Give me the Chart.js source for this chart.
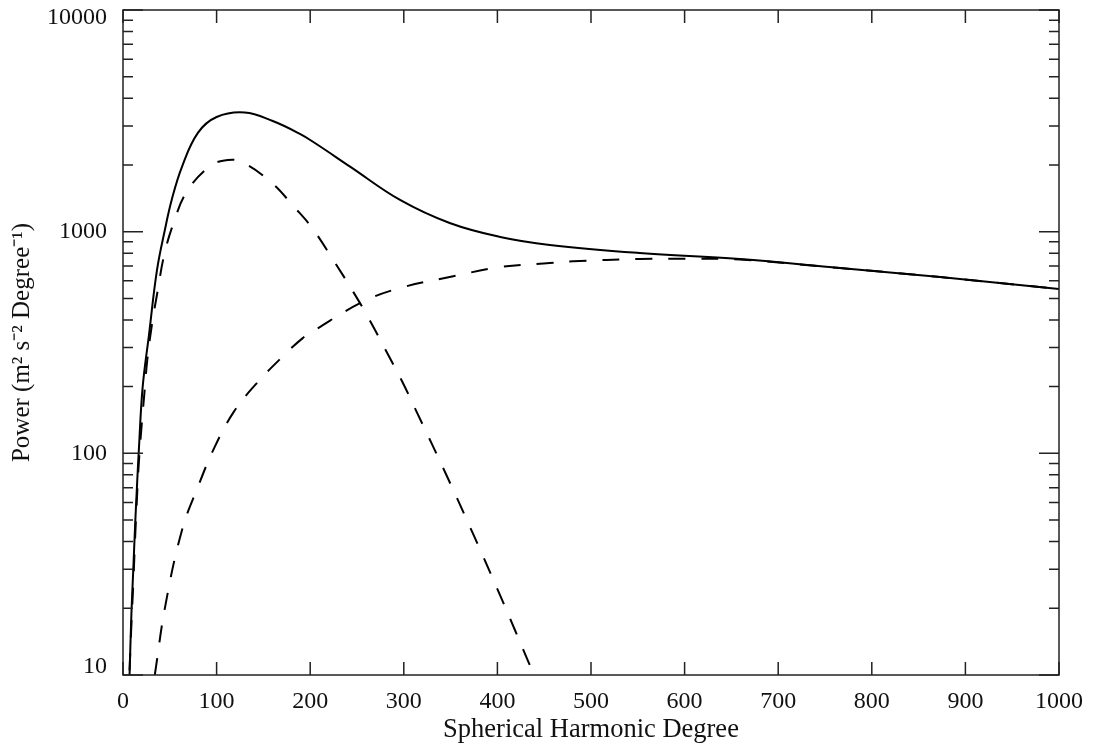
<!DOCTYPE html>
<html>
<head>
<meta charset="utf-8">
<script src="https://cdn.jsdelivr.net/npm/chart.js@4.4.1/dist/chart.umd.min.js"></script>
<style>
  html, body { margin: 0; padding: 0; background: #fff; }
  #wrap { width: 1096px; height: 746px; }
</style>
</head>
<body>
<div id="wrap"><canvas id="chart" width="1096" height="746"></canvas></div>
<script>
// total power (solid)
var totalDegree = [7, 9, 11, 13, 15, 17, 21, 28, 36.3, 45, 52, 63, 80, 100, 130, 160, 189, 205, 243, 296, 349, 403, 456, 552, 659, 766, 873, 1000];
var totalPower = [10, 19, 30, 48, 72, 105, 199, 349, 671, 1030, 1390, 1960, 2790, 3290, 3450, 3155, 2760, 2512, 1960, 1390, 1094, 946, 871, 801, 753, 685, 624, 551];

// peaked component (dashed)
var peakDegree = [7, 9, 11, 13, 15, 17, 20, 23, 26, 31, 37, 44, 54, 68, 93, 112, 127, 158, 183, 202, 226, 246, 263, 281, 298, 314, 345, 375, 405, 433, 440];
var peakPower = [10.5, 17, 26, 42, 64, 92, 135, 190, 265, 383, 540, 785, 1094, 1510, 1977, 2105, 2060, 1675, 1291, 1040, 730, 535, 403, 290, 212, 153, 80.7, 42.4, 21.8, 11.5, 9.8];

// broad component (dashed)
var broadDegree = [34, 45, 63, 80, 98, 118, 141, 170, 192, 205, 256, 296, 349, 403, 456, 481, 552, 600, 659, 766, 873, 1000];
var broadPower = [10, 20.3, 45, 70.5, 107, 153, 203, 272, 331, 360, 482, 557, 624, 692, 722, 735, 753, 755, 748, 685, 624, 551];

var xTicks = [0, 100, 200, 300, 400, 500, 600, 700, 800, 900, 1000];
var yDecades = [10, 100, 1000, 10000];

function toPoints(xs, ys) {
  return xs.map(function (x, i) { return { x: x, y: ys[i] }; });
}

var serif = '"Liberation Serif", "Times New Roman", serif';

// inward ticks on all four sides plus the frame
var frameTicks = {
  id: 'frameTicks',
  afterDraw: function (chart) {
    var ctx = chart.ctx;
    var a = chart.chartArea;
    var x = chart.scales.x;
    var y = chart.scales.y;
    ctx.save();
    ctx.strokeStyle = '#222';
    ctx.lineWidth = 1.5;
    ctx.strokeRect(a.left, a.top, a.right - a.left, a.bottom - a.top);
    ctx.beginPath();
    xTicks.forEach(function (v) {
      var px = x.getPixelForValue(v);
      ctx.moveTo(px, a.bottom);
      ctx.lineTo(px, a.bottom - 13);
      ctx.moveTo(px, a.top);
      ctx.lineTo(px, a.top + 13);
    });
    yDecades.forEach(function (d) {
      for (var k = 1; k <= 9; k++) {
        var v = d * k;
        if (v < 10 || v > 10000) continue;
        var py = y.getPixelForValue(v);
        var len = k === 1 ? 20 : 10;
        ctx.moveTo(a.left, py);
        ctx.lineTo(a.left + len, py);
        ctx.moveTo(a.right, py);
        ctx.lineTo(a.right - len, py);
      }
    });
    ctx.stroke();
    ctx.restore();
  }
};

var lineStyle = {
  borderColor: '#000',
  borderWidth: 2,
  pointRadius: 0,
  tension: 0.4,
  fill: false
};

new Chart(document.getElementById('chart').getContext('2d'), {
  type: 'line',
  data: {
    datasets: [
      Object.assign({ data: toPoints(totalDegree, totalPower) }, lineStyle),
      Object.assign({ data: toPoints(peakDegree, peakPower), borderDash: [17, 16] }, lineStyle),
      Object.assign({ data: toPoints(broadDegree, broadPower), borderDash: [17, 16] }, lineStyle)
    ]
  },
  options: {
    responsive: false,
    animation: false,
    layout: { padding: { top: 10, right: 37, left: 0, bottom: 0 } },
    plugins: {
      legend: { display: false },
      tooltip: { enabled: false }
    },
    scales: {
      x: {
        type: 'linear',
        min: 0,
        max: 1000,
        grid: { display: false },
        border: { display: false },
        ticks: {
          stepSize: 100,
          padding: 4,
          color: '#111',
          font: { family: serif, size: 24 },
          callback: function (v) { return String(v); }
        },
        title: {
          display: true,
          text: 'Spherical Harmonic Degree',
          color: '#111',
          font: { family: serif, size: 26.5 },
          padding: { top: 0, bottom: 0 }
        },
        afterFit: function (scale) {
          scale.height = 71;
          scale.paddingLeft = 0;
          scale.paddingRight = 0;
        }
      },
      y: {
        type: 'logarithmic',
        min: 10,
        max: 10000,
        grid: { display: false },
        border: { display: false },
        afterBuildTicks: function (scale) {
          scale.ticks = yDecades.map(function (v) { return { value: v }; });
        },
        ticks: {
          padding: 8,
          color: '#111',
          font: { family: serif, size: 24, lineHeight: 0.67 },
          // end labels sit inside the axis range, as in the original
          callback: function (v) {
            if (v === 10) return [String(v), ''];
            if (v === 10000) return ['', String(v)];
            return String(v);
          }
        },
        title: {
          display: true,
          text: 'Power (m² s⁻² Degree⁻¹)',
          color: '#111',
          font: { family: serif, size: 25 },
          padding: { top: 7, bottom: 0 }
        },
        afterFit: function (scale) {
          scale.width = 123;
          scale.paddingTop = 0;
          scale.paddingBottom = 0;
        }
      }
    }
  },
  plugins: [frameTicks]
});
</script>
</body>
</html>
